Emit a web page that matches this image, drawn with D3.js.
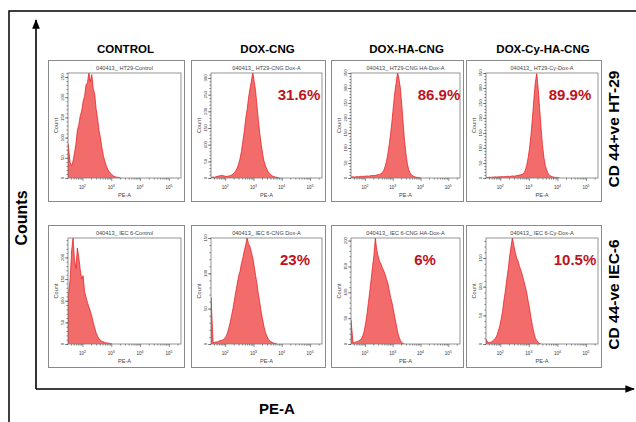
<!DOCTYPE html>
<html>
<head>
<meta charset="utf-8">
<script src="https://cdn.jsdelivr.net/npm/d3@7"></script>
<style>
  body { margin: 0; background: #fff; }
  svg { display: block; font-family: "Liberation Sans", Arial, sans-serif; }
</style>
</head>
<body>
<div id="chart"></div>
<script>
const columns = ['CONTROL', 'DOX-CNG', 'DOX-HA-CNG', 'DOX-Cy-HA-CNG'];
const rowLabels = ['CD 44+ve HT-29', 'CD 44-ve IEC-6'];
const sampleNames = [
  ['040413_ HT29-Control', '040413_ HT29-CNG Dox-A', '040413_ HT29-CNG HA-Dox-A', '040413_ HT29-Cy-Dox-A'],
  ['040413_ IEC 6-Control', '040413_ IEC 6-CNG Dox-A', '040413_ IEC 6-CNG HA-Dox-A', '040413_ IEC 6-Cy-Dox-A']
];
const percents = [[null, '31.6%', '86.9%', '89.9%'], [null, '23%', '6%', '10.5%']];
const yMax = [[260, 315, 350, 350], [245, 150, 205, 185]];
const xTickPowers = [2, 3, 4, 5];
const xLogDomain = [1.5, 5.42];

// counts per bin, bins 0.05 decade wide starting at 10^1.5
const binStart = 1.5, binWidth = 0.05;
const ht29Control = [85,38,30,42,62,84,118,132,154,166,190,202,231,236,262,238,256,222,208,172,148,118,100,76,56,42,31,22,16,12,8,5,4,2,2,1];
const ht29Dox = [2,3,2,4,5,6,7,8,7,6,5,5,6,7,9,12,16,22,30,42,58,80,110,140,178,205,240,268,290,318,290,262,215,172,132,100,72,50,36,26,18,13,9,6,4,3,2,1];
const ht29HaDox = [3,4,3,4,5,4,5,6,5,6,6,7,6,7,8,8,9,8,10,11,12,14,18,25,38,55,80,112,148,190,240,285,318,352,330,300,245,185,125,82,48,28,17,11,7,5,3,2,2,1];
const ht29CyDox = [2,2,3,2,3,3,4,3,4,4,4,5,4,5,5,6,5,6,7,6,7,8,9,10,11,13,16,26,42,68,100,145,200,262,318,348,300,235,170,112,70,42,26,15,9,6,4,3,2,2,1];
const iec6Control = [105,150,215,246,195,175,222,200,172,150,158,122,108,96,86,76,64,50,38,26,18,12,9,6,5,3,3,2,2,1];
const iec6Dox = [66,2,2,3,3,4,5,5,6,8,10,15,22,30,40,50,62,74,85,96,103,114,122,132,140,150,142,138,130,122,110,97,85,70,58,45,34,24,16,11,7,5,3,2,1,1];
const iec6HaDox = [46,2,3,4,5,6,8,10,16,25,40,58,80,102,125,150,172,205,182,170,160,155,148,142,135,126,118,104,90,80,66,52,38,24,14,7,3,1];
const iec6CyDox = [8,2,3,3,5,7,10,14,22,30,42,56,75,92,112,130,152,170,186,172,160,150,144,135,128,120,110,100,90,75,62,46,32,20,11,6,3,1];
const counts = [
  [ht29Control, ht29Dox, ht29HaDox, ht29CyDox],
  [iec6Control, iec6Dox, iec6HaDox, iec6CyDox]
];

const W = 636, H = 422;
const colX = [48, 191, 331, 466], colW = [137, 135, 133, 136];
const rowY = [60, 225], rowH = [142, 143];
const pctOffset = [[0, 88, 88, 84], [0, 84, 74, 89]];

const svg = d3.select('#chart').append('svg')
  .attr('width', W).attr('height', H);

// outer frame (top and left only)
svg.append('path').attr('d', `M9,${H} V11 H${W}`)
  .attr('fill', 'none').attr('stroke', '#000').attr('stroke-width', 1.5);

// big axes with arrows
const defs = svg.append('defs');
defs.append('marker').attr('id', 'arrow')
  .attr('viewBox', '0 0 10 10').attr('refX', 9).attr('refY', 5)
  .attr('markerWidth', 6).attr('markerHeight', 6).attr('orient', 'auto')
  .append('path').attr('d', 'M0,1 L10,5 L0,9 z').attr('fill', '#000');

svg.append('line').attr('x1', 36).attr('y1', 389).attr('x2', 36).attr('y2', 20)
  .attr('stroke', '#000').attr('stroke-width', 1.6).attr('marker-end', 'url(#arrow)');
svg.append('line').attr('x1', 36).attr('y1', 389).attr('x2', 634).attr('y2', 389)
  .attr('stroke', '#000').attr('stroke-width', 1.6).attr('marker-end', 'url(#arrow)');

svg.append('text').attr('transform', 'translate(27,218) rotate(-90)')
  .attr('text-anchor', 'middle').attr('font-size', 16).attr('font-weight', 'bold')
  .text('Counts');
svg.append('text').attr('x', 277).attr('y', 414)
  .attr('text-anchor', 'middle').attr('font-size', 15).attr('font-weight', 'bold')
  .text('PE-A');

// column titles
columns.forEach((c, j) => {
  const pl = colX[j] + 20, pr = colX[j] + colW[j] - 4;
  svg.append('text').attr('x', (pl + pr) / 2 + 1).attr('y', 53)
    .attr('text-anchor', 'middle').attr('font-size', 11.5).attr('font-weight', 'bold')
    .text(c);
});

// row labels
rowLabels.forEach((r, i) => {
  const cy = rowY[i] + rowH[i] / 2 - 2;
  svg.append('text').attr('transform', `translate(619,${cy}) rotate(-90)`)
    .attr('text-anchor', 'middle').attr('font-size', 15.5).attr('font-weight', 'bold')
    .text(r);
});

const xMinor = [];
for (let p = 1; p <= 5; p++) {
  for (let k = 2; k <= 9; k++) {
    const v = k * Math.pow(10, p);
    if (Math.log10(v) > xLogDomain[0] && Math.log10(v) < xLogDomain[1]) xMinor.push(v);
  }
}

counts.forEach((rowData, i) => {
  rowData.forEach((data, j) => {
    const px = colX[j], py = rowY[i], pw = colW[j], ph = rowH[i];
    const pl = px + 20, pr = px + pw - 4, pt = py + 13, pb = py + ph - 24;
    const g = svg.append('g');

    g.append('rect').attr('x', px + 0.5).attr('y', py + 0.5)
      .attr('width', pw - 1).attr('height', ph - 1)
      .attr('fill', '#fff').attr('stroke', '#8a8a8a').attr('stroke-width', 1);

    const x = d3.scaleLog()
      .domain(xLogDomain.map(d => Math.pow(10, d)))
      .range([pl, pr]);
    const y = d3.scaleLinear().domain([0, yMax[i][j]]).range([pb, pt]);

    // histogram
    const pts = [{ v: Math.pow(10, binStart), c: 0 }, { v: Math.pow(10, binStart), c: data[0] }];
    data.forEach((c, k) => {
      if (k > 0) pts.push({ v: Math.pow(10, binStart + binWidth * (k + 0.5)), c });
    });
    pts.push({ v: Math.pow(10, binStart + binWidth * (data.length + 0.5)), c: 0 });

    const clipId = `clip${i}${j}`;
    defs.append('clipPath').attr('id', clipId)
      .append('rect').attr('x', pl).attr('y', pt).attr('width', pr - pl).attr('height', pb - pt);

    const area = d3.area().x(d => x(d.v)).y0(pb).y1(d => y(d.c));
    const line = d3.line().x(d => x(d.v)).y(d => y(d.c));
    g.append('path').datum(pts).attr('d', area)
      .attr('clip-path', `url(#${clipId})`)
      .attr('fill', '#f36c6c');
    g.append('path').datum(pts).attr('d', line)
      .attr('clip-path', `url(#${clipId})`)
      .attr('fill', 'none').attr('stroke', '#e4141a').attr('stroke-width', 0.7);

    g.append('rect').attr('x', pl).attr('y', pt)
      .attr('width', pr - pl).attr('height', pb - pt)
      .attr('fill', 'none').attr('stroke', '#7a7a7a').attr('stroke-width', 0.8);

    // x axis
    const xAxis = g.append('g').attr('transform', `translate(0,${pb})`)
      .call(d3.axisBottom(x).tickValues(xTickPowers.map(p => Math.pow(10, p)))
        .tickSize(3).tickFormat(''));
    g.append('g').attr('transform', `translate(0,${pb})`)
      .call(d3.axisBottom(x).tickValues(xMinor).tickSize(1.6).tickFormat(''));
    xTickPowers.forEach(p => {
      const t = g.append('text').attr('x', x(Math.pow(10, p))).attr('y', pb + 11)
        .attr('text-anchor', 'middle').attr('font-size', 4.5).attr('fill', '#333');
      t.append('tspan').text('10');
      t.append('tspan').attr('dy', -2).attr('font-size', 3.5).text(p);
    });

    // y axis
    const yMajor = d3.range(0, yMax[i][j] + 1, 50);
    const yMinorT = d3.range(0, yMax[i][j] + 1, 10);
    g.append('g').attr('transform', `translate(${pl},0)`)
      .call(d3.axisLeft(y).tickValues(yMajor).tickSize(3).tickFormat(''));
    g.append('g').attr('transform', `translate(${pl},0)`)
      .call(d3.axisLeft(y).tickValues(yMinorT).tickSize(1.6).tickFormat(''));
    yMajor.forEach(v => {
      g.append('text').attr('transform', `translate(${pl - 4},${y(v)}) rotate(-90)`)
        .attr('text-anchor', 'middle').attr('font-size', 4.3).attr('fill', '#333')
        .text(v);
    });

    g.selectAll('.domain').attr('stroke', 'none');
    g.selectAll('.tick line').attr('stroke', '#444').attr('stroke-width', 0.6);

    // texts
    g.append('text').attr('x', (pl + pr) / 2).attr('y', py + 10)
      .attr('text-anchor', 'middle').attr('font-size', 5.6).attr('fill', '#444')
      .text(sampleNames[i][j]);
    g.append('text').attr('x', (pl + pr) / 2).attr('y', pb + 19)
      .attr('text-anchor', 'middle').attr('font-size', 5.6).attr('fill', '#444')
      .text('PE-A');
    g.append('text').attr('transform', `translate(${px + 10},${(pt + pb) / 2}) rotate(-90)`)
      .attr('text-anchor', 'middle').attr('font-size', 5.6).attr('fill', '#444')
      .text('Count');

    if (percents[i][j]) {
      g.append('text').attr('x', pl + pctOffset[i][j]).attr('y', py + 40)
        .attr('text-anchor', 'middle').attr('font-size', 15).attr('font-weight', 'bold')
        .attr('fill', '#c0121c')
        .text(percents[i][j]);
    }
  });
});
</script>
</body>
</html>
